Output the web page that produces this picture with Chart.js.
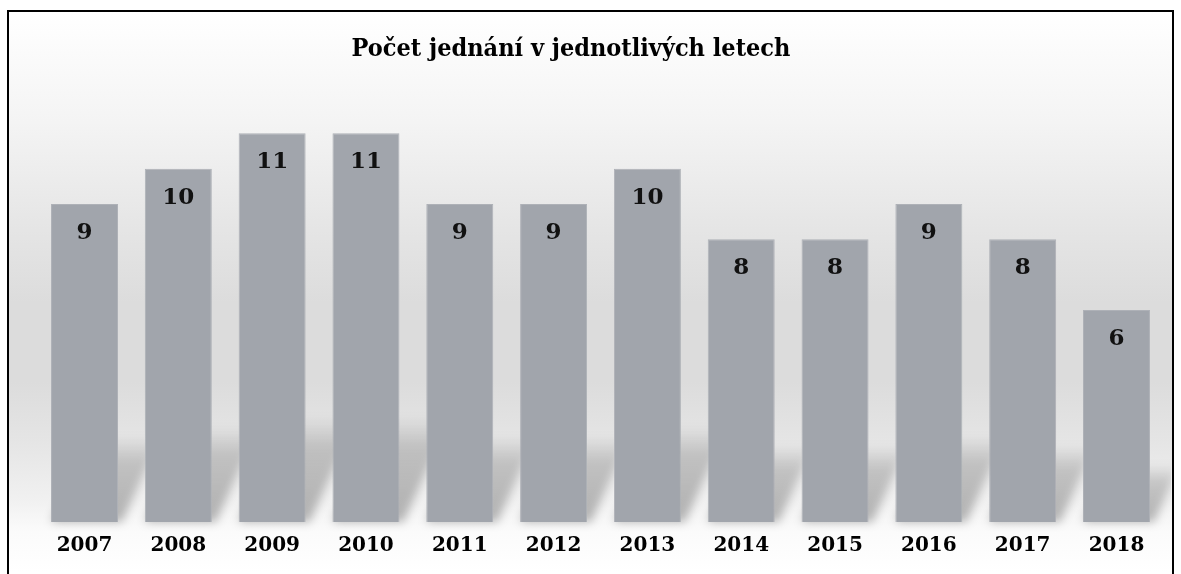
<!DOCTYPE html>
<html>
<head>
<meta charset="utf-8">
<script src="https://cdn.jsdelivr.net/npm/chart.js@4/dist/chart.umd.min.js"></script>
<style>
  html, body { margin: 0; padding: 0; background: #fff; overflow: hidden; }
  #frame {
    position: absolute; left: 7px; top: 10px; width: 1163px; height: 600px;
    border: 2px solid #000;
    background: linear-gradient(to bottom,
      #ffffff 0px, #f4f4f4 110px, #e6e6e6 210px, #dcdcdc 290px,
      #dcdcdc 370px, #e5e5e5 430px, #f1f1f1 490px, #fbfbfb 520px, #ffffff 560px);
  }
  #c { position: absolute; left: 0; top: 0; }
</style>
</head>
<body>
<div id="frame"></div>
<canvas id="c" width="1181" height="574"></canvas>
<script>
// --- Data ---
const years = ["2007", "2008", "2009", "2010", "2011", "2012", "2013", "2014", "2015", "2016", "2017", "2018"];
const counts = [9, 10, 11, 11, 9, 9, 10, 8, 8, 9, 8, 6];
const chartTitle = "Počet jednání v jednotlivých letech";

const serif = "'DejaVu Serif', serif";

// soft skewed shadow behind each bar
const barShadows = {
    id: 'barShadows',
    beforeDatasetsDraw(chart) {
        const ctx = chart.ctx;
        ctx.save();
        // keep shadows inside the frame
        ctx.beginPath();
        ctx.rect(9, 12, 1162, 562);
        ctx.clip();
        chart.getDatasetMeta(0).data.forEach(bar => {
            const xl = bar.x - bar.width / 2;
            const xr = bar.x + bar.width / 2;
            const b = bar.base;
            const h = (bar.base - bar.y) * 0.27;
            const k = 0.45;
            ctx.save();
            ctx.filter = 'blur(5px)';
            const g = ctx.createLinearGradient(0, b, 0, b - h);
            g.addColorStop(0, 'rgba(0,0,0,0.28)');
            g.addColorStop(0.7, 'rgba(0,0,0,0.17)');
            g.addColorStop(1, 'rgba(0,0,0,0)');
            ctx.fillStyle = g;
            ctx.beginPath();
            ctx.moveTo(xl, b);
            ctx.lineTo(xr + 4, b);
            ctx.lineTo(xr + 4 + k * h, b - h);
            ctx.lineTo(xl + k * h, b - h);
            ctx.closePath();
            ctx.fill();
            ctx.restore();
        });
        ctx.restore();
    }
};

// values written inside the top of each bar
const valueLabels = {
    id: 'valueLabels',
    afterDatasetsDraw(chart) {
        const ctx = chart.ctx;
        const ds = chart.data.datasets[0];
        ctx.save();
        ctx.font = "bold 23px " + serif;
        ctx.fillStyle = '#111';
        ctx.textAlign = 'center';
        ctx.textBaseline = 'middle';
        chart.getDatasetMeta(0).data.forEach((bar, i) => {
            ctx.fillText(ds.data[i], bar.x, bar.y + 29);
        });
        ctx.restore();
    }
};

// title, placed a bit left of centre like the original
const titleText = {
    id: 'titleText',
    afterDraw(chart) {
        const ctx = chart.ctx;
        ctx.save();
        ctx.font = "bold 25px 'DejaVu Serif Condensed', " + serif;
        ctx.fillStyle = '#000';
        ctx.textAlign = 'center';
        ctx.textBaseline = 'middle';
        ctx.fillText(chartTitle, 571, 49);
        ctx.restore();
    }
};

new Chart(document.getElementById('c'), {
    type: 'bar',
    data: {
        labels: years,
        datasets: [{
            data: counts,
            backgroundColor: '#a1a5ac',
            borderColor: '#aeb1b7',
            borderWidth: 1,
            categoryPercentage: 1,
            barPercentage: 0.714
        }]
    },
    options: {
        responsive: false,
        animation: false,
        layout: { padding: { left: 37.6, right: 17.6, top: 98, bottom: 12 } },
        plugins: {
            legend: { display: false },
            tooltip: { enabled: false },
            title: { display: false }
        },
        scales: {
            x: {
                grid: { display: false },
                border: { display: false },
                ticks: {
                    color: '#000',
                    padding: 4,
                    font: { family: serif, weight: 'bold', size: 20 }
                }
            },
            y: { display: false, min: 0, max: 12 }
        }
    },
    plugins: [barShadows, valueLabels, titleText]
});
</script>
</body>
</html>
